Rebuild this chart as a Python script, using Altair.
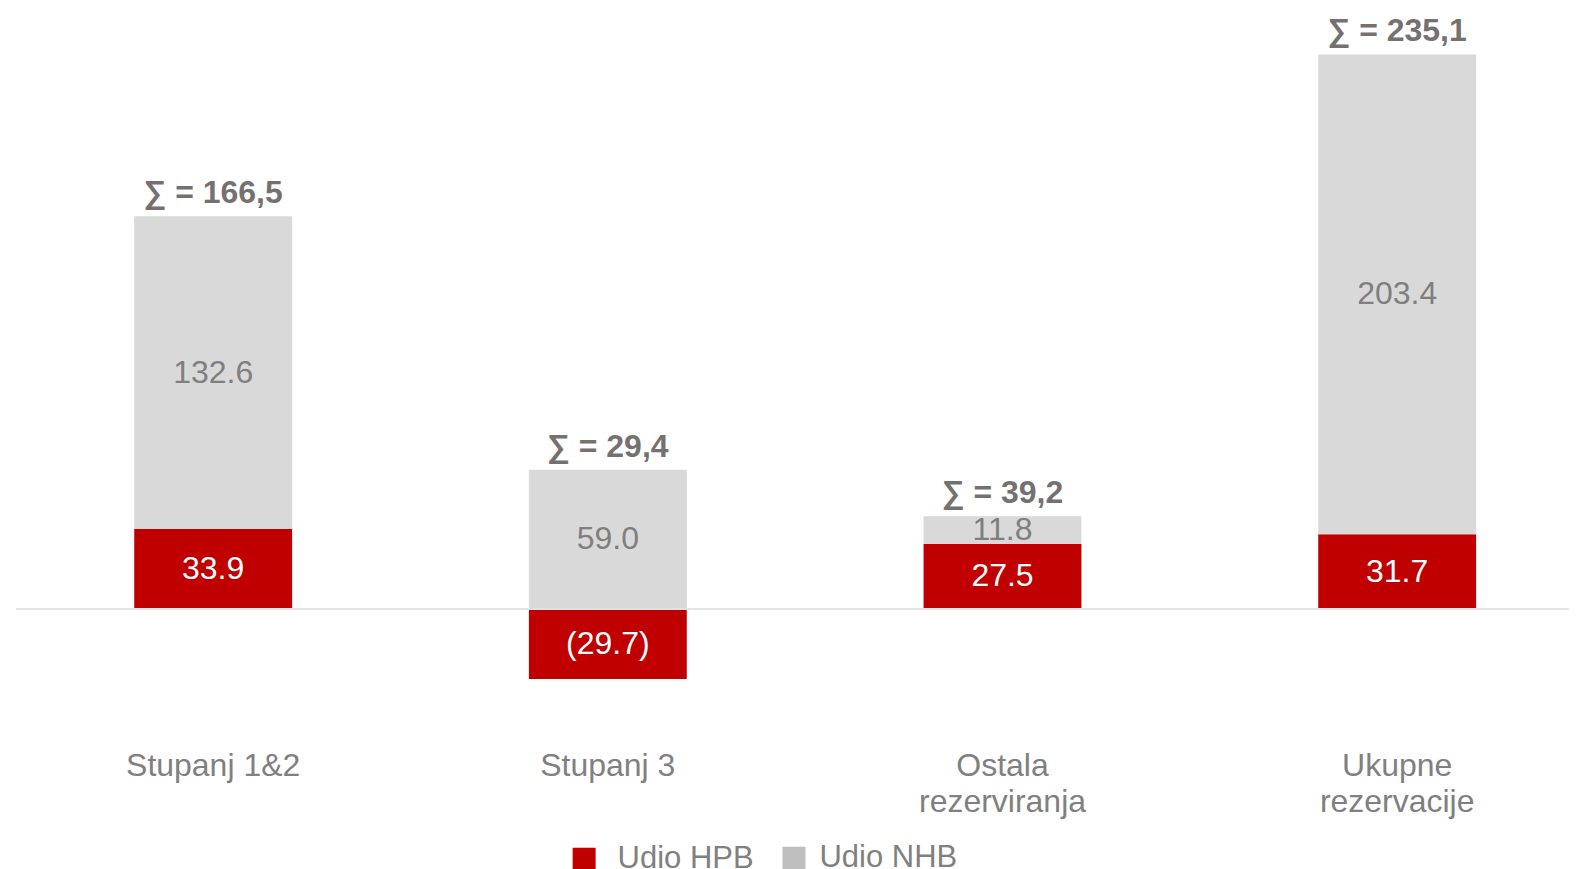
import altair as alt
import pandas as pd

categories = ["Stupanj 1&2", "Stupanj 3", "Ostala|rezerviranja", "Ukupne|rezervacije"]
hpb = [33.9, -29.7, 27.5, 31.7]
nhb = [132.6, 59.0, 11.8, 203.4]
totals = ["166,5", "29,4", "39,2", "235,1"]
series = ["Udio HPB", "Udio NHB"]
colors = ["#C00000", "#D9D9D9"]
legend_colors = ["#C00000", "#BFBFBF"]
text_colors = ["#FFFFFF", "#7F7F7F"]

rows = []
for i, c in enumerate(categories):
    rows.append({"cat": c, "series": series[0], "value": hpb[i], "order": 0,
                 "mid": hpb[i] / 2,
                 "label": f"({abs(hpb[i]):.1f})" if hpb[i] < 0 else f"{hpb[i]:.1f}"})
    base = hpb[i] if hpb[i] > 0 else 0
    rows.append({"cat": c, "series": series[1], "value": nhb[i], "order": 1,
                 "mid": base + nhb[i] / 2, "label": f"{nhb[i]:.1f}"})
df = pd.DataFrame(rows)

tot = pd.DataFrame({
    "cat": categories,
    "top": [(h if h > 0 else 0) + n for h, n in zip(hpb, nhb)],
    "label": ["∑ = " + t for t in totals],
})

FONT = "Liberation Sans"
FS = 32
W, H = 1554, 708

xenc = alt.X("cat:N", sort=categories, title=None,
             scale=alt.Scale(paddingInner=0.6, paddingOuter=0.2675, align=0.56),
             axis=alt.Axis(labelExpr="split(datum.label, '|')", labelAngle=0,
                           labelFontSize=FS, labelColor="#808080", labelFont=FONT,
                           labelPadding=24, labelLineHeight=36, domain=False,
                           ticks=False, labelBaseline="top"))
yscale = alt.Scale(domain=[-50, 250], nice=False, zero=False)

bars = alt.Chart(df).mark_bar().encode(
    x=xenc,
    y=alt.Y("value:Q", scale=yscale, axis=None, stack="zero"),
    color=alt.Color("series:N", scale=alt.Scale(domain=series, range=colors), legend=None),
    order=alt.Order("order:Q"),
)


def legend_layer(idx, lx, ly, offset):
    return alt.Chart(df).transform_filter("false").mark_square(opacity=1).encode(
        x=alt.X("cat:N", sort=categories),
        y=alt.Y("value:Q", scale=yscale, axis=None),
        color=alt.Color("series:N",
                        scale=alt.Scale(domain=[series[idx]], range=[legend_colors[idx]]),
                        legend=alt.Legend(title=None, orient="none", legendX=lx, legendY=ly,
                                          direction="horizontal", symbolType="square",
                                          symbolSize=529, symbolStrokeWidth=0,
                                          symbolOpacity=1, labelFontSize=31,
                                          labelColor="#808080", labelFont=FONT,
                                          labelOffset=offset)),
    )


leg_hpb = legend_layer(0, 553, 825, 18)
leg_nhb = legend_layer(1, 763, 824, 10)

zero = alt.Chart(pd.DataFrame({"v": [0]})).mark_rule(color="#E3E3E3", strokeWidth=2).encode(
    y=alt.Y("v:Q", scale=yscale, axis=None), x=alt.value(0), x2=alt.value(W))

labels = alt.Chart(df).mark_text(fontSize=FS, font=FONT, baseline="middle").encode(
    x=alt.X("cat:N", sort=categories),
    y=alt.Y("mid:Q", scale=yscale, axis=None),
    text="label:N",
    color=alt.Color("series:N", scale=alt.Scale(domain=series, range=text_colors), legend=None),
)

sums = alt.Chart(tot).mark_text(fontSize=FS, font=FONT, fontWeight="bold",
                                color="#767171", baseline="alphabetic", dy=-13).encode(
    x=alt.X("cat:N", sort=categories),
    y=alt.Y("top:Q", scale=yscale, axis=None),
    text="label:N",
)

chart = alt.layer(bars, leg_hpb, leg_nhb, zero, labels, sums).resolve_scale(
    color="independent"
).properties(
    width=W, height=H, padding={"left": 7, "top": 7, "right": 0, "bottom": 0}
).configure_view(stroke=None)

chart.save("out.html", embed_options={"renderer": "svg", "actions": False})
